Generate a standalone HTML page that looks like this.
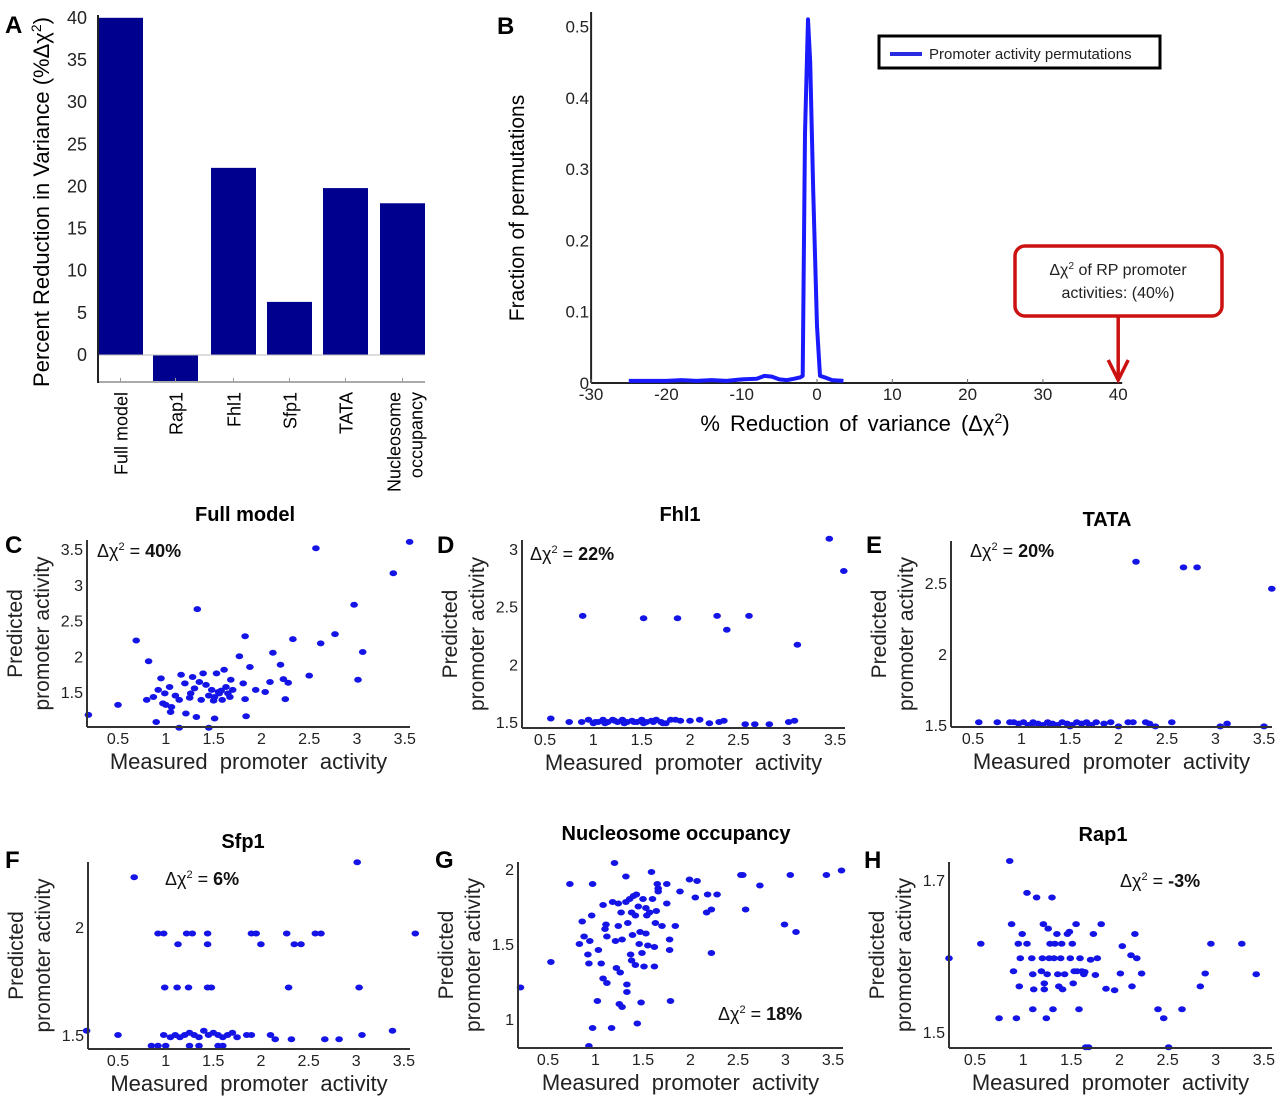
<!DOCTYPE html>
<html><head><meta charset="utf-8"><style>
html,body{margin:0;padding:0;background:#fff;}
svg{display:block;font-family:"Liberation Sans",Arial,sans-serif;}
</style></head><body>
<svg id="fig" width="1280" height="1100" viewBox="0 0 1280 1100" xmlns="http://www.w3.org/2000/svg">
<g id="panelA"></g>
<g id="panelB"></g>
<g id="scatters"></g>
</svg>
<script>
// ---------- Panel A data ----------
const barCategories = ["Full model","Rap1","Fhl1","Sfp1","TATA","Nucleosome occupancy"];
const barValues = [40, -3.2, 22.2, 6.3, 19.8, 18.0];
const barTicks = [0,5,10,15,20,25,30,35,40];

// ---------- Panel B data ----------
const permX = [-25,-22,-20,-18,-16,-14,-12,-10,-8,-7,-6,-5,-4,-3,-2.2,-1.9,-1.6,-1.2,-0.9,-0.5,0.0,0.4,1,2,3.5];
const permY = [0.003,0.003,0.003,0.004,0.003,0.004,0.003,0.005,0.006,0.010,0.009,0.005,0.004,0.006,0.008,0.01,0.35,0.51,0.45,0.27,0.08,0.01,0.008,0.004,0.003];
const permXTicks = [-30,-20,-10,0,10,20,30,40];
const permYTicks = [0,0.1,0.2,0.3,0.4,0.5];
const observedValue = 40;

// ---------- Scatter data ----------
const fullX = [0.19,0.5,0.69,0.82,0.8,0.9,0.95,0.92,0.87,0.99,1.04,0.97,1.06,1.05,1.16,1.14,1.2,1.14,1.21,1.28,1.26,1.32,1.33,1.35,1.39,1.42,1.37,1.45,1.48,1.51,1.53,1.51,1.56,1.61,1.63,1.59,1.67,1.68,1.7,1.77,1.81,1.83,1.83,1.84,1.88,1.94,2.04,2.09,2.12,2.2,2.23,2.25,2.28,2.33,2.5,2.57,2.62,2.77,2.97,3.01,3.06,3.38,3.55,1.1,1.3,1.45,1.55,1.65,1.0,1.25,1.5,1.58];
const fullY = [1.18,1.32,2.22,1.93,1.39,1.08,1.69,1.53,1.43,1.48,1.57,1.34,1.29,1.22,1.74,1.39,1.62,1.0,1.2,1.71,1.48,1.15,2.66,1.64,1.76,1.6,1.39,1.0,1.53,1.43,1.76,1.13,1.48,1.81,1.57,1.39,1.43,1.67,1.53,2.0,1.62,2.28,1.4,1.16,1.85,1.53,1.5,1.64,2.05,1.88,1.68,1.4,1.63,2.24,1.73,3.51,2.18,2.31,2.72,1.67,2.06,3.16,3.6,1.45,1.55,1.45,1.5,1.48,1.32,1.42,1.38,1.52];

const fhl1X = [0.89,1.52,1.87,2.28,2.38,2.61,3.11,3.44,3.59,0.2,0.56,0.75,0.88,0.95,1.0,1.05,1.1,1.15,1.2,1.25,1.3,1.35,1.4,1.45,1.5,1.55,1.6,1.65,1.7,1.75,1.8,1.85,1.9,2.0,2.1,2.2,2.3,2.35,2.57,2.67,2.82,3.02,3.08,1.02,1.12,1.22,1.32,1.42,1.52,1.62,1.72];
const fhl1Y = [2.42,2.4,2.4,2.42,2.3,2.42,2.17,3.09,2.81,1.51,1.53,1.5,1.5,1.52,1.49,1.5,1.52,1.5,1.52,1.5,1.52,1.5,1.51,1.5,1.52,1.5,1.51,1.52,1.5,1.49,1.52,1.52,1.51,1.51,1.52,1.49,1.5,1.51,1.48,1.48,1.48,1.5,1.51,1.5,1.49,1.51,1.49,1.5,1.49,1.5,1.49];

const tataX = [2.18,2.67,2.81,3.58,0.2,0.56,0.75,0.88,0.92,0.97,1.02,1.07,1.12,1.17,1.22,1.27,1.32,1.37,1.42,1.47,1.52,1.57,1.62,1.67,1.72,1.77,1.85,1.92,2.0,2.1,2.15,2.28,2.32,2.38,2.55,3.05,3.12,3.5,1.1,1.3,1.5,1.7];
const tataY = [2.65,2.61,2.61,2.46,1.49,1.52,1.52,1.52,1.52,1.51,1.52,1.5,1.52,1.51,1.5,1.52,1.51,1.5,1.52,1.51,1.5,1.52,1.51,1.52,1.5,1.52,1.51,1.52,1.49,1.52,1.52,1.52,1.51,1.49,1.52,1.49,1.51,1.49,1.5,1.5,1.49,1.5];

const sfp1X = [0.67,3.01,0.92,0.98,1.22,1.28,1.44,1.9,1.95,2.27,2.57,2.63,3.62,1.13,1.44,2.0,2.35,2.42,0.99,1.12,1.24,1.44,1.48,2.29,3.03,0.17,0.5,3.38,3.06,2.32,2.67,2.82,0.85,0.92,1.0,1.25,1.35,1.55,1.6,0.98,1.05,1.1,1.15,1.2,1.25,1.3,1.35,1.4,1.45,1.5,1.55,1.6,1.65,1.7,1.75,1.85,1.9,2.1,2.15];
const sfp1Y = [2.23,2.3,1.97,1.97,1.97,1.97,1.97,1.97,1.97,1.97,1.97,1.97,1.97,1.92,1.92,1.92,1.92,1.92,1.72,1.72,1.72,1.72,1.72,1.72,1.72,1.52,1.5,1.52,1.5,1.48,1.48,1.48,1.45,1.45,1.45,1.45,1.45,1.45,1.45,1.5,1.49,1.5,1.49,1.5,1.51,1.5,1.49,1.52,1.5,1.51,1.5,1.49,1.5,1.51,1.49,1.5,1.5,1.5,1.48];

const nucX = [0.21,0.53,0.73,0.83,0.86,0.88,0.92,0.93,0.94,0.96,0.97,0.97,0.93,1.02,1.03,1.06,1.08,1.1,1.11,1.12,1.08,1.12,1.17,1.18,1.2,1.21,1.22,1.24,1.24,1.26,1.25,1.27,1.28,1.28,1.32,1.32,1.33,1.33,1.34,1.36,1.37,1.38,1.38,1.39,1.4,1.42,1.42,1.43,1.44,1.46,1.47,1.45,1.48,1.49,1.5,1.51,1.53,1.53,1.54,1.55,1.57,1.59,1.6,1.62,1.62,1.63,1.64,1.65,1.66,1.66,1.7,1.75,1.75,1.78,1.78,1.79,1.84,1.89,1.99,2.05,2.07,2.17,2.18,2.22,2.22,2.28,2.55,2.53,2.73,2.58,2.99,3.05,3.11,3.43,3.59];
const nucY = [1.21,1.38,1.9,1.5,1.65,1.55,1.43,1.37,1.52,1.69,1.9,0.94,0.82,1.12,1.46,1.37,1.76,1.6,1.63,1.55,1.27,1.24,0.94,1.78,2.04,1.52,1.34,1.77,1.62,1.31,1.1,1.71,1.53,1.08,1.95,1.78,1.23,1.18,1.64,1.8,1.43,1.39,1.71,1.56,1.82,1.69,1.36,1.83,0.97,1.5,1.58,1.75,1.11,1.44,1.8,1.35,1.57,1.74,1.69,1.49,1.71,1.98,1.8,1.48,1.35,1.64,1.72,1.9,1.87,1.85,1.62,1.9,1.77,1.53,1.46,1.12,1.62,1.85,1.93,1.81,1.92,1.71,1.83,1.44,1.73,1.83,1.96,1.96,1.89,1.73,1.63,1.96,1.58,1.96,1.99];

const rap1X = [0.23,0.56,0.75,0.86,0.88,0.9,0.93,0.95,0.96,0.97,0.99,1.04,1.04,1.09,1.1,1.1,1.11,1.14,1.19,1.2,1.21,1.22,1.22,1.24,1.25,1.26,1.27,1.28,1.3,1.31,1.32,1.33,1.36,1.35,1.37,1.39,1.4,1.41,1.43,1.46,1.48,1.49,1.51,1.52,1.53,1.55,1.56,1.58,1.59,1.61,1.63,1.64,1.65,1.68,1.7,1.73,1.75,1.77,1.81,1.86,1.95,2.01,2.03,2.12,2.13,2.16,2.18,2.23,2.4,2.46,2.51,2.65,2.84,2.89,2.95,3.27,3.42];
const rap1Y = [1.597,1.616,1.518,1.725,1.642,1.58,1.518,1.616,1.56,1.597,1.629,1.616,1.683,1.597,1.576,1.53,1.556,1.677,1.58,1.597,1.642,1.564,1.556,1.518,1.576,1.636,1.597,1.616,1.677,1.53,1.597,1.616,1.576,1.629,1.56,1.597,1.616,1.556,1.576,1.629,1.632,1.597,1.616,1.564,1.58,1.642,1.58,1.53,1.597,1.58,1.576,1.579,1.48,1.48,1.595,1.629,1.575,1.597,1.642,1.557,1.555,1.577,1.613,1.601,1.56,1.629,1.597,1.577,1.53,1.518,1.48,1.53,1.56,1.577,1.616,1.616,1.576];

const NS = "http://www.w3.org/2000/svg";
function mk(parent, tag, attrs, text){
  const el = document.createElementNS(NS, tag);
  for (const k in attrs) el.setAttribute(k, attrs[k]);
  if (text !== undefined) el.textContent = text;
  parent.appendChild(el);
  return el;
}

// ================= Panel A =================
(function(){
  const g = document.getElementById('panelA');
  const yScale = v => 355 - v * 8.43;
  const bandL = [98,153,211,267,323,380], bandW = 45;
  const bx = i => bandL[i];
  let t = mk(g,'text',{x:5,y:33,'font-size':24,'font-weight':'bold'},'A');
  
  
  barValues.forEach((v,i)=>{
    const y0 = yScale(Math.max(v,0)), y1 = yScale(Math.min(v,0));
    const r = mk(g,'rect',{x:bx(i),y:y0,width:bandW,height:y1-y0,fill:'#00008f'});
    
    
  });
  let l = mk(g,'line',{x1:98,y1:355,x2:425,y2:355,stroke:'#bbb','stroke-width':1});
   
  l = mk(g,'line',{x1:98,y1:382,x2:425,y2:382,stroke:'#aaa','stroke-width':2});
   
  l = mk(g,'line',{x1:98,y1:15,x2:98,y2:383,stroke:'#222','stroke-width':2});
   
  barTicks.forEach(v=>{
    const tt = mk(g,'text',{x:87,y:yScale(v)+6,'font-size':18,'text-anchor':'end',fill:'#222'},String(v));
     
  });
  barCategories.forEach((c,i)=>{
    const cx = bx(i)+bandW/2;
    mk(g,'line',{x1:cx,y1:378,x2:cx,y2:382,stroke:'#999','stroke-width':1});
    if (c === "Nucleosome occupancy"){
      let a = mk(g,'text',{x:0,y:0,'font-size':18,'text-anchor':'end',transform:`translate(${cx-2},392) rotate(-90)`},'Nucleosome');
       
      a = mk(g,'text',{x:0,y:0,'font-size':18,'text-anchor':'end',transform:`translate(${cx+20},392) rotate(-90)`},'occupancy');
       
    } else {
      const a = mk(g,'text',{x:0,y:0,'font-size':18,'text-anchor':'end',transform:`translate(${cx+7},392) rotate(-90)`},c);
       
    }
  });
  const yl = mk(g,'text',{x:0,y:0,'font-size':22,'text-anchor':'middle',transform:'translate(49,202) rotate(-90)'});
  yl.innerHTML = 'Percent Reduction in Variance (%Δχ<tspan dy="-8" font-size="14">2</tspan><tspan dy="8">)</tspan>';
   
})();

// ================= Panel B =================
(function(){
  const g = document.getElementById('panelB');
  const xS = v => 817 + v * 7.53;
  const yS = v => 383 - v * 713;
  let t = mk(g,'text',{x:497,y:34,'font-size':24,'font-weight':'bold'},'B');
   
  let l = mk(g,'line',{x1:xS(-30),y1:12,x2:xS(-30),y2:383,stroke:'#222','stroke-width':2});
   
  l = mk(g,'line',{x1:xS(-30),y1:383,x2:xS(40)+4,y2:383,stroke:'#222','stroke-width':2});
   
  permXTicks.forEach(v=>{
    mk(g,'line',{x1:xS(v),y1:379,x2:xS(v),y2:383,stroke:'#666','stroke-width':1});
    const tt = mk(g,'text',{x:xS(v),y:400,'font-size':17,'text-anchor':'middle',fill:'#222'},String(v));
     
  });
  permYTicks.forEach(v=>{
    const tt = mk(g,'text',{x:xS(-30)-2,y:yS(v)+6,'font-size':17,'text-anchor':'end',fill:'#222'},String(v));
     
  });
  const d = permX.map((x,i)=>(i?'L':'M')+xS(x).toFixed(1)+','+yS(permY[i]).toFixed(1)).join(' ');
  const p = mk(g,'path',{d:d,fill:'none',stroke:'#1a1aff','stroke-width':4,'stroke-linejoin':'round'});
   
  const yl = mk(g,'text',{x:0,y:0,'font-size':21,'text-anchor':'middle',transform:'translate(524,208) rotate(-90)'},'Fraction of permutations');
   
  const xl = mk(g,'text',{x:855,y:431,'font-size':22,'text-anchor':'middle','word-spacing':4});
  xl.innerHTML = '% Reduction  of variance  (Δχ<tspan dy="-8" font-size="14">2</tspan><tspan dy="8">)</tspan>';
   
  // legend
  const lg = mk(g,'g',{});
   
  mk(lg,'rect',{x:879,y:36,width:281,height:32,fill:'#fff',stroke:'#000','stroke-width':3});
  mk(lg,'line',{x1:890,y1:54,x2:922,y2:54,stroke:'#2a2ae0','stroke-width':4});
  const le = mk(lg,'text',{x:929,y:59,'font-size':15,fill:'#222'},'Promoter activity permutations');
   
  // callout
  const cg = mk(g,'g',{});
   
  mk(cg,'rect',{x:1015,y:246,width:207,height:70,rx:10,fill:'#fff',stroke:'#cc1111','stroke-width':3.5});
  const c1 = mk(cg,'text',{x:1118,y:275,'font-size':16,'text-anchor':'middle',fill:'#222'});
  c1.innerHTML = 'Δχ<tspan dy="-6" font-size="10">2</tspan><tspan dy="6"> of RP  promoter</tspan>';
  mk(cg,'text',{x:1118,y:298,'font-size':16,'text-anchor':'middle',fill:'#222'},'activities: (40%)');
  const ax = xS(observedValue);
  mk(cg,'line',{x1:ax,y1:317,x2:ax,y2:376,stroke:'#cc1111','stroke-width':3.5});
  mk(cg,'path',{d:`M${ax-10},360 L${ax},380 L${ax+10},360`,fill:'none',stroke:'#cc1111','stroke-width':3.5});
})();

// ================= Scatter panels =================
const panels = [
 {id:'c',letter:'C',title:'Full model',xs:fullX,ys:fullY,L:87,T:540,B:727,R:410,x05:118,xu:95.6,yRef:1.5,yRefPx:692,yu:71.5,yTicks:[1.5,2,2.5,3,3.5],ann:'40%',annX:97,annY:557,titleX:245,titleY:521,lx:5,ly:553},
 {id:'d',letter:'D',title:'Fhl1',xs:fhl1X,ys:fhl1Y,L:522,T:540,B:728,R:845,x05:545,xu:96.7,yRef:1.5,yRefPx:722,yu:115.3,yTicks:[1.5,2,2.5,3],ann:'22%',annX:530,annY:560,titleX:680,titleY:521,lx:437,ly:553},
 {id:'e',letter:'E',title:'TATA',xs:tataX,ys:tataY,L:951,T:541,B:727,R:1272,x05:973,xu:97,yRef:1.5,yRefPx:725,yu:142,yTicks:[1.5,2,2.5],ann:'20%',annX:970,annY:557,titleX:1107,titleY:526,lx:866,ly:553},
 {id:'f',letter:'F',title:'Sfp1',xs:sfp1X,ys:sfp1Y,L:88,T:862,B:1049,R:410,x05:118,xu:95.3,yRef:1.5,yRefPx:1035,yu:216,yTicks:[1.5,2],ann:'6%',annX:165,annY:885,titleX:243,titleY:848,lx:5,ly:868},
 {id:'g',letter:'G',title:'Nucleosome occupancy',xs:nucX,ys:nucY,L:518,T:862,B:1048,R:843,x05:548,xu:95,yRef:1.5,yRefPx:944,yu:150,yTicks:[1,1.5,2],ann:'18%',annX:718,annY:1020,titleX:676,titleY:840,lx:435,ly:868},
 {id:'h',letter:'H',title:'Rap1',xs:rap1X,ys:rap1Y,L:949,T:862,B:1048,R:1272,x05:975,xu:96.3,yRef:1.5,yRefPx:1032,yu:760,yTicks:[1.5,1.7],ann:'-3%',annX:1120,annY:887,titleX:1103,titleY:841,lx:864,ly:868}
];
const xTickVals = [0.5,1,1.5,2,2.5,3,3.5];
(function(){
  const root = document.getElementById('scatters');
  panels.forEach(P=>{
    const g = mk(root,'g',{});
    
    
    const xS = v => P.x05 + (v-0.5)*P.xu;
    const yS = v => P.yRefPx - (v-P.yRef)*P.yu;
    let t = mk(g,'text',{x:P.lx,y:P.ly,'font-size':24,'font-weight':'bold'},P.letter);
     
    t = mk(g,'text',{x:P.titleX,y:P.titleY,'font-size':20,'font-weight':'bold','text-anchor':'middle'},P.title);
     
    P.xs.forEach((x,i)=>{
      const px = xS(x), py = yS(P.ys[i]);
      if (px < P.L-6 || px > P.R+8 || py < P.T-12 || py > P.B+3) return;
      const e = mk(g,'ellipse',{cx:px.toFixed(1),cy:py.toFixed(1),rx:3.8,ry:3.0,fill:'#1414e6'});
       
    });
    let l = mk(g,'line',{x1:P.L,y1:P.T,x2:P.L,y2:P.B,stroke:'#333','stroke-width':2});
     
    l = mk(g,'line',{x1:P.L,y1:P.B,x2:P.R,y2:P.B,stroke:'#333','stroke-width':2});
     
    xTickVals.forEach(v=>{
      const tt = mk(g,'text',{x:xS(v),y:P.B+17,'font-size':16,'text-anchor':'middle',fill:'#222'},String(v));
       
    });
    P.yTicks.forEach(v=>{
      const tt = mk(g,'text',{x:P.L-4,y:yS(v)+6,'font-size':16,'text-anchor':'end',fill:'#222'},String(v));
       
    });
    const xl = mk(g,'text',{x:(P.L+P.R)/2,y:P.B+42,'font-size':22,'text-anchor':'middle',fill:'#222','word-spacing':6},'Measured promoter activity');
     
    const my = (P.T+P.B)/2;
    const yl1 = mk(g,'text',{x:0,y:0,'font-size':21,'text-anchor':'middle',transform:`translate(${P.L-65},${my}) rotate(-90)`,fill:'#222'},'Predicted');
     
    const yl2 = mk(g,'text',{x:0,y:0,'font-size':21,'text-anchor':'middle',transform:`translate(${P.L-38},${my}) rotate(-90)`,fill:'#222'},'promoter activity');
     
    const an = mk(g,'text',{x:P.annX,y:P.annY,'font-size':18,fill:'#111'});
    an.innerHTML = 'Δχ<tspan dy="-7" font-size="11">2</tspan><tspan dy="7"> = </tspan><tspan font-weight="bold">'+P.ann+'</tspan>';
     
  });
})();
</script>
</body></html>
